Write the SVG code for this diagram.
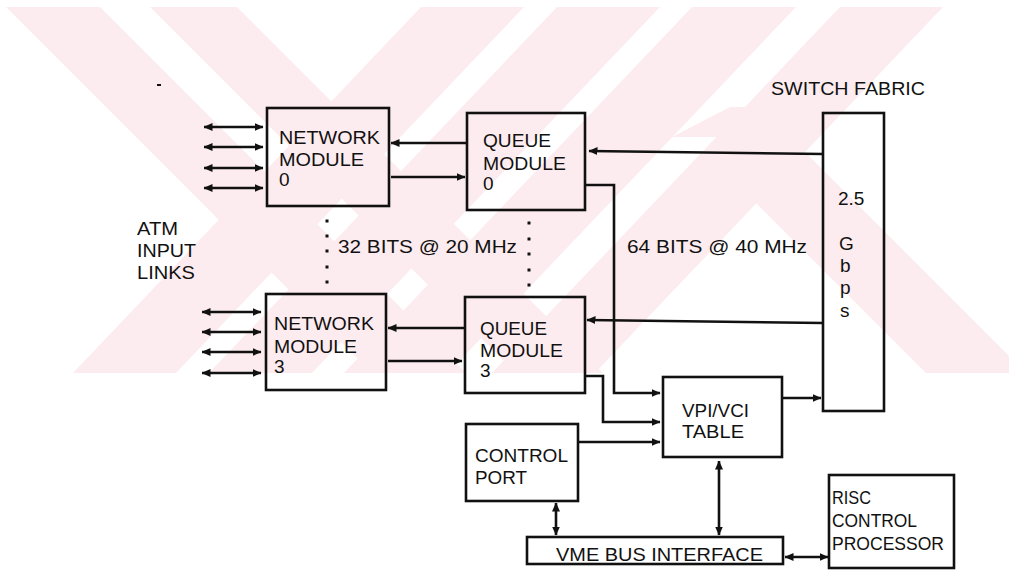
<svg xmlns="http://www.w3.org/2000/svg" width="1009" height="575" viewBox="0 0 1009 575">
<defs>
<style>
.wm{fill:#fdecef;stroke:none}
.box{fill:none;stroke:#111;stroke-width:2.6}
.ln{fill:none;stroke:#111;stroke-width:2.6}
.arr{marker-end:url(#ah)}
.dbl{marker-start:url(#ah);marker-end:url(#ah)}
text{font-family:"Liberation Sans",Arial,sans-serif;font-size:19px;fill:#111}
.dot{fill:#111}
</style>
<marker id="ah" markerUnits="userSpaceOnUse" markerWidth="9" markerHeight="8" viewBox="0 0 9 8" refX="8.5" refY="4" orient="auto-start-reverse">
<path d="M0,0 L9,4 L0,8 z" fill="#111"/>
</marker>
<clipPath id="wmclip"><rect x="0" y="7" width="1009" height="366"/></clipPath>
</defs>
<rect width="1009" height="575" fill="#fff"/>
<g id="watermark" clip-path="url(#wmclip)">
<polygon class="wm" points="6,7 100,7 466,373 372,373"/>
<polygon class="wm" points="150,7 237,7 603,373 516,373"/>
<polygon class="wm" points="421,7 524,7 176,373 73,373"/>
<polygon class="wm" points="557,7 660,7 312,373 209,373"/>
<polygon class="wm" points="692,7 796,7 448,373 344,373"/>
<polygon class="wm" points="840,7 943,7 595,373 492,373"/>
<polygon class="wm" points="672,137 717,137 755,175 755,202 926,373 1026,373 1026,373 760,107 730,107"/>
</g>
<g id="connectors">
<line class="ln dbl" x1="204" y1="127" x2="263" y2="127"/>
<line class="ln dbl" x1="204" y1="147" x2="263" y2="147"/>
<line class="ln dbl" x1="204" y1="168" x2="263" y2="168"/>
<line class="ln dbl" x1="204" y1="188" x2="263" y2="188"/>
<line class="ln dbl" x1="202" y1="312" x2="261" y2="312"/>
<line class="ln dbl" x1="202" y1="332" x2="261" y2="332"/>
<line class="ln dbl" x1="202" y1="352" x2="261" y2="352"/>
<line class="ln dbl" x1="202" y1="373" x2="261" y2="373"/>
<line class="ln arr" x1="467" y1="143" x2="391" y2="143"/>
<line class="ln arr" x1="391" y1="177" x2="465" y2="177"/>
<line class="ln arr" x1="465" y1="328" x2="388" y2="328"/>
<line class="ln arr" x1="388" y1="361" x2="462" y2="361"/>
<line class="ln arr" x1="823" y1="154" x2="589" y2="151"/>
<line class="ln arr" x1="823" y1="323" x2="587" y2="320"/>
<polyline class="ln arr" points="585,185 614,185 614,393 660,393"/>
<polyline class="ln arr" points="585,376 603,376 603,422 660,422"/>
<line class="ln arr" x1="578" y1="442" x2="660" y2="442"/>
<line class="ln arr" x1="782" y1="398" x2="821" y2="398"/>
<line class="ln dbl" x1="719" y1="461" x2="719" y2="535"/>
<line class="ln dbl" x1="556" y1="503" x2="556" y2="535"/>
<line class="ln dbl" x1="785" y1="557" x2="828" y2="557"/>
</g>
<g id="dots">
<rect class="dot" x="325.5" y="219.5" width="3" height="3"/>
<rect class="dot" x="325.5" y="234.5" width="3" height="3"/>
<rect class="dot" x="325.5" y="249.5" width="3" height="3"/>
<rect class="dot" x="325.5" y="265.5" width="3" height="3"/>
<rect class="dot" x="325.5" y="280.5" width="3" height="3"/>
<rect class="dot" x="527.5" y="221.5" width="3" height="3"/>
<rect class="dot" x="527.5" y="237.5" width="3" height="3"/>
<rect class="dot" x="527.5" y="252.5" width="3" height="3"/>
<rect class="dot" x="527.5" y="268.5" width="3" height="3"/>
<rect class="dot" x="527.5" y="283.5" width="3" height="3"/>
<rect class="dot" x="157" y="84" width="4" height="2"/>
</g>
<g id="network-module-0">
<rect class="box" x="267" y="108" width="122" height="98"/>
<text x="279" y="144" textLength="101" lengthAdjust="spacingAndGlyphs">NETWORK</text>
<text x="279" y="166" textLength="85" lengthAdjust="spacingAndGlyphs">MODULE</text>
<text x="279" y="186">0</text>
</g>
<g id="queue-module-0">
<rect class="box" x="467" y="113" width="118" height="97"/>
<text x="483" y="147" textLength="68" lengthAdjust="spacingAndGlyphs">QUEUE</text>
<text x="483" y="170" textLength="83" lengthAdjust="spacingAndGlyphs">MODULE</text>
<text x="483" y="190">0</text>
</g>
<g id="network-module-3">
<rect class="box" x="266" y="294" width="120" height="96"/>
<text x="274" y="330" textLength="100" lengthAdjust="spacingAndGlyphs">NETWORK</text>
<text x="274" y="353" textLength="83" lengthAdjust="spacingAndGlyphs">MODULE</text>
<text x="274" y="373">3</text>
</g>
<g id="queue-module-3">
<rect class="box" x="465" y="297" width="120" height="96"/>
<text x="480" y="335" textLength="67" lengthAdjust="spacingAndGlyphs">QUEUE</text>
<text x="480" y="357" textLength="83" lengthAdjust="spacingAndGlyphs">MODULE</text>
<text x="480" y="377">3</text>
</g>
<g id="switch-fabric">
<text x="771" y="95" textLength="154" lengthAdjust="spacingAndGlyphs">SWITCH FABRIC</text>
<rect class="box" x="823" y="113" width="61" height="298"/>
<text x="838" y="205">2.5</text>
<text x="839" y="250">G</text>
<text x="840" y="272">b</text>
<text x="840" y="294">p</text>
<text x="840" y="317">s</text>
</g>
<g id="vpi-vci-table">
<rect class="box" x="663" y="377" width="119" height="80"/>
<text x="682" y="417" textLength="67" lengthAdjust="spacingAndGlyphs">VPI/VCI</text>
<text x="682" y="438" textLength="62" lengthAdjust="spacingAndGlyphs">TABLE</text>
</g>
<g id="control-port">
<rect class="box" x="466" y="424" width="112" height="77"/>
<text x="475" y="462" textLength="93" lengthAdjust="spacingAndGlyphs">CONTROL</text>
<text x="475" y="484" textLength="52" lengthAdjust="spacingAndGlyphs">PORT</text>
</g>
<g id="vme-bus-interface">
<rect class="box" x="527" y="537" width="256" height="27"/>
<text x="556" y="561" textLength="207" lengthAdjust="spacingAndGlyphs">VME BUS INTERFACE</text>
</g>
<g id="risc-control-processor">
<rect class="box" x="829" y="475" width="125" height="93"/>
<text x="832" y="504" textLength="39" lengthAdjust="spacingAndGlyphs">RISC</text>
<text x="832" y="527" textLength="85" lengthAdjust="spacingAndGlyphs">CONTROL</text>
<text x="832" y="550" textLength="112" lengthAdjust="spacingAndGlyphs">PROCESSOR</text>
</g>
<g id="labels">
<text x="137" y="235" textLength="41" lengthAdjust="spacingAndGlyphs">ATM</text>
<text x="137" y="257" textLength="59" lengthAdjust="spacingAndGlyphs">INPUT</text>
<text x="137" y="279" textLength="58" lengthAdjust="spacingAndGlyphs">LINKS</text>
<text x="338" y="253" textLength="179" lengthAdjust="spacingAndGlyphs">32 BITS @ 20 MHz</text>
<text x="627" y="253" textLength="180" lengthAdjust="spacingAndGlyphs">64 BITS @ 40 MHz</text>
</g>
</svg>
